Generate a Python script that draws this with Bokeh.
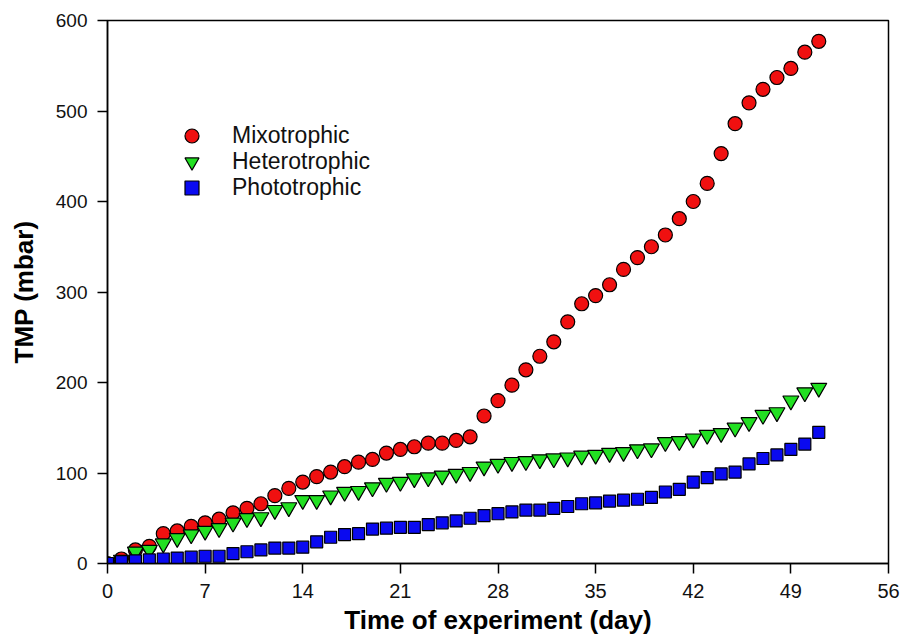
from bokeh.plotting import figure
from bokeh.models import FixedTicker, Legend, LegendItem, Range1d
from bokeh.embed import file_html
from bokeh.resources import INLINE

days = list(range(0, 52))

mixotrophic = [0, 5, 15, 19, 33, 36, 41, 45, 49, 56, 61, 66, 75, 83, 90, 96, 101, 107, 112, 115,
               122, 126, 129, 133, 133, 136, 140, 163, 180, 197, 214, 229, 245, 267, 287, 296,
               308, 325, 338, 350, 363, 381, 400, 420, 453, 486, 509, 524, 537, 547, 565, 577]

heterotrophic = [0, 4, 13, 15, 22, 28, 32, 36, 39, 45, 50, 51, 59, 62, 70, 70, 75, 79, 80, 84,
                 89, 90, 94, 95, 97, 99, 101, 107, 110, 112, 113, 115, 116, 117, 119, 120,
                 122, 123, 126, 127, 134, 135, 138, 142, 144, 150, 156, 164, 167, 180, 189, 194]

phototrophic = [0, 2, 3, 4, 5, 6, 7, 8, 8, 11, 13, 15, 17, 17, 18, 24, 29, 32, 33, 38,
                39, 40, 40, 43, 45, 47, 50, 53, 55, 57, 59, 59, 61, 63, 66, 67,
                69, 70, 71, 73, 79, 82, 90, 95, 99, 101, 110, 116, 120, 126, 132, 145]

series_names = ["Mixotrophic", "Heterotrophic", "Phototrophic"]

x_ticks = [0, 7, 14, 21, 28, 35, 42, 49, 56]
y_ticks = [0, 100, 200, 300, 400, 500, 600]

FONT = "Liberation Sans"

p = figure(width=902, height=644, output_backend="svg", toolbar_location=None,
           x_range=Range1d(0, 56), y_range=Range1d(0, 600),
           min_border_left=107, min_border_right=14, min_border_top=20, min_border_bottom=81)

p.xgrid.visible = False
p.ygrid.visible = False
p.outline_line_color = "black"
p.outline_line_width = 1.5
p.outline_line_alpha = 1.0

r1 = p.scatter(days, mixotrophic, marker="circle", size=14, fill_color="#f01010",
               line_color="black", line_width=1.2)
r2 = p.scatter(days, heterotrophic, marker="inverted_triangle", size=16, fill_color="#22e022",
               line_color="black", line_width=1.2)
r3 = p.scatter(days, phototrophic, marker="square", size=12, fill_color="#0a0af0",
               line_color="black", line_width=1.2)

for ax in (p.xaxis[0], p.yaxis[0]):
    ax.axis_line_color = "black"
    ax.axis_line_width = 1.5
    ax.major_tick_line_color = "black"
    ax.major_tick_line_width = 1.5
    ax.major_tick_in = 0
    ax.major_tick_out = 10
    ax.minor_tick_line_color = None
    ax.major_label_text_font = FONT
    ax.major_label_text_color = "#111111"
    ax.axis_label_text_font = FONT
    ax.axis_label_text_font_style = "bold"
    ax.axis_label_text_font_size = "26px"
    ax.axis_label_text_color = "black"

p.xaxis[0].ticker = FixedTicker(ticks=x_ticks)
p.yaxis[0].ticker = FixedTicker(ticks=y_ticks)
p.xaxis[0].major_label_text_font_size = "20px"
p.yaxis[0].major_label_text_font_size = "19px"
p.xaxis[0].major_label_standoff = 10
p.yaxis[0].major_label_standoff = 10
p.xaxis[0].axis_label = "Time of experiment (day)"
p.yaxis[0].axis_label = "TMP (mbar)"
p.xaxis[0].axis_label_standoff = 4
p.yaxis[0].axis_label_standoff = 14

# one single-item legend per series, so rows can sit closer than the glyph box
legend_spots = [(67, 410), (67, 384), (67, 358)]
for name, rend, spot in zip(series_names, [r1, r2, r3], legend_spots):
    lg = Legend(items=[LegendItem(label=name, renderers=[rend])],
                location=spot, glyph_width=35, glyph_height=35, padding=0,
                label_standoff=23, label_text_font=FONT, label_text_font_size="23px",
                label_text_color="#111111", background_fill_alpha=0, border_line_alpha=0,
                margin=0)
    p.add_layout(lg, "center")

open("out.html", "w").write(file_html(p, INLINE))
